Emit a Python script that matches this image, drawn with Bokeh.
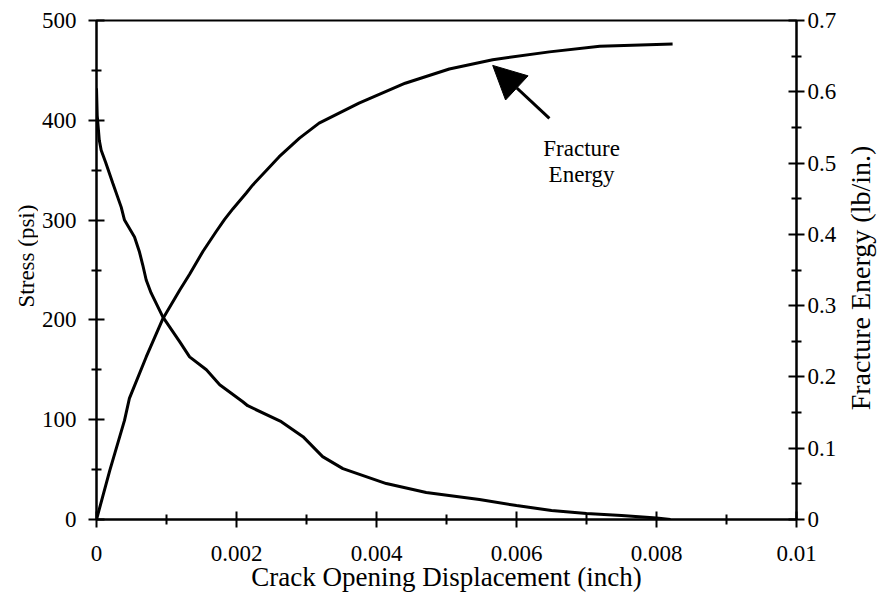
import math
from bokeh.plotting import figure
from bokeh.layouts import row
from bokeh.models import (Range1d, LinearAxis, FixedTicker, Arrow, NormalHead, Label)
from bokeh.embed import file_html
from bokeh.resources import INLINE

# ---- data ----
stress_cod = [0.0, 0.00001, 0.00004, 0.000067, 0.00013, 0.000233, 0.000353, 0.0004,
              0.000543, 0.000614, 0.000661, 0.00071, 0.00078, 0.000947, 0.00119, 0.00133,
              0.00157, 0.00176, 0.00209, 0.00216, 0.00264, 0.00295, 0.00323, 0.00352,
              0.00414, 0.00471, 0.00547, 0.0060, 0.0065, 0.0070, 0.0075, 0.0080, 0.0082]
stress_psi = [432, 405, 380, 370, 358, 337, 313, 300,
              283, 268, 255, 240, 227, 203, 178, 163,
              150, 135, 118, 114, 98, 83, 63, 51,
              36, 27, 20, 14, 9, 6, 4, 1.5, 0]

energy_cod = [0.0, 0.00019, 0.0004, 0.00047, 0.00071, 0.00095, 0.00119, 0.00133,
              0.00152, 0.00171, 0.00183, 0.00195, 0.00214, 0.00223, 0.00261, 0.0029,
              0.00318, 0.00375, 0.00441, 0.00504, 0.00566, 0.00647, 0.00719, 0.00823]
energy_lb_in = [0.0, 0.069, 0.139, 0.17, 0.228, 0.282, 0.322, 0.344,
                0.376, 0.404, 0.421, 0.436, 0.458, 0.469, 0.509, 0.535,
                0.556, 0.584, 0.612, 0.632, 0.645, 0.656, 0.664, 0.667]

x_ticks = [0, 0.002, 0.004, 0.006, 0.008, 0.01]
x_tick_labels = ["0", "0.002", "0.004", "0.006", "0.008", "0.01"]
x_minor = [0.001, 0.003, 0.005, 0.007, 0.009]
stress_ticks = [0, 100, 200, 300, 400, 500]
stress_tick_labels = ["0", "100", "200", "300", "400", "500"]
stress_minor = [50, 150, 250, 350, 450]
energy_ticks = [0, 0.1, 0.2, 0.3, 0.4, 0.5, 0.6, 0.7]
energy_tick_labels = ["0", "0.1", "0.2", "0.3", "0.4", "0.5", "0.6", "0.7"]
energy_minor = [0.05, 0.15, 0.25, 0.35, 0.45, 0.55, 0.65]

x_title = "Crack Opening Displacement (inch)"
left_title = "Stress (psi)"
right_title = "Fracture Energy (lb/in.)"

annot_lines = ["Fracture", "Energy"]
annot_x = 0.00693
annot_y = [372, 346]
arrow_from = (0.00647, 402)
arrow_to = (0.00566, 455)

FONT = "Liberation Serif"

p = figure(frame_width=700, frame_height=499, output_backend="svg", toolbar_location=None,
           x_range=Range1d(0, 0.01), y_range=Range1d(0, 500),
           min_border_left=58, min_border_top=20, min_border_right=44, min_border_bottom=76)
p.extra_y_ranges = {"energy": Range1d(0, 0.7)}
p.xgrid.visible = False
p.ygrid.visible = False
p.outline_line_color = "black"
p.outline_line_width = 2
p.background_fill_color = "white"
p.border_fill_color = "white"

p.line(stress_cod, stress_psi, line_color="black", line_width=3)
p.line(energy_cod, energy_lb_in, line_color="black", line_width=3, y_range_name="energy")

right = LinearAxis(y_range_name="energy")
p.add_layout(right, "right")

def style(ax, ticks, labels, minor, standoff):
    ax.ticker = FixedTicker(ticks=ticks, minor_ticks=minor)
    ax.major_label_overrides = dict(zip(ticks, labels))
    ax.major_label_text_font = FONT
    ax.major_label_text_font_size = "23px"
    ax.major_label_text_color = "black"
    ax.major_label_standoff = standoff
    ax.axis_line_color = "black"
    ax.axis_line_width = 2
    ax.major_tick_line_color = "black"
    ax.major_tick_line_width = 2
    ax.minor_tick_line_color = "black"
    ax.minor_tick_line_width = 2
    ax.major_tick_in = 8
    ax.major_tick_out = 8
    ax.minor_tick_in = 5
    ax.minor_tick_out = 5

style(p.xaxis[0], x_ticks, x_tick_labels, x_minor, 18)
style(p.yaxis[0], stress_ticks, stress_tick_labels, stress_minor, 12)
style(right, energy_ticks, energy_tick_labels, energy_minor, 3)

xa = p.xaxis[0]
xa.axis_label = x_title
xa.axis_label_text_font = FONT
xa.axis_label_text_font_size = "27px"
xa.axis_label_text_font_style = "normal"
xa.axis_label_text_color = "black"
xa.axis_label_standoff = -2

for txt, yy in zip(annot_lines, annot_y):
    p.add_layout(Label(x=annot_x, y=yy, text=txt, text_font=FONT, text_font_size="23px",
                       text_align="center", text_baseline="middle", text_color="black"))

p.add_layout(Arrow(end=NormalHead(size=33, fill_color="black", line_color="black", line_width=1),
                   x_start=arrow_from[0], y_start=arrow_from[1],
                   x_end=arrow_to[0], y_end=arrow_to[1],
                   line_color="black", line_width=3))

# side strips that hold the rotated axis titles (bottom-to-top, like the reference)
def side_strip(width, title, x_frac, y_val, size):
    s = figure(frame_width=width, frame_height=499, output_backend="svg", toolbar_location=None,
               x_range=Range1d(0, 1), y_range=p.y_range, x_axis_type=None, y_axis_type=None,
               min_border_left=0, min_border_right=0, min_border_top=20, min_border_bottom=0)
    s.outline_line_color = None
    s.background_fill_color = "white"
    s.border_fill_color = "white"
    s.add_layout(Label(x=x_frac, y=y_val, text=title, text_font=FONT, text_font_size=size,
                       text_align="center", text_baseline="middle", text_color="black",
                       angle=math.pi / 2))
    return s

left_strip = side_strip(38, left_title, 0.684, 264, "23px")
right_strip = side_strip(40, right_title, 0.5, 242, "28px")

layout = row(left_strip, p, right_strip)
open("out.html", "w").write(file_html(layout, INLINE))
